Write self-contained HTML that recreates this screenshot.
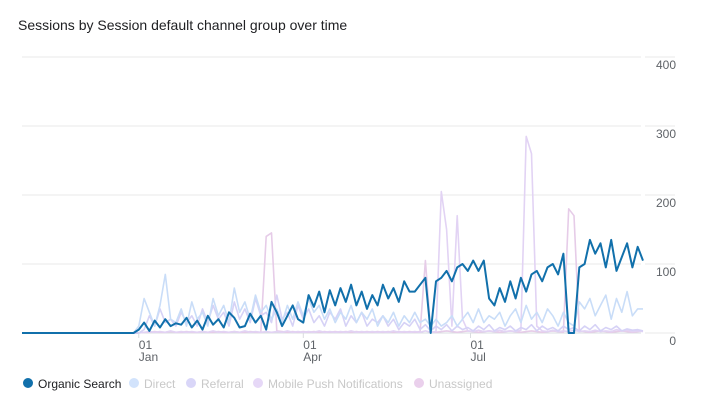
<!DOCTYPE html>
<html><head><meta charset="utf-8"><style>
body{margin:0;background:#fff;font-family:"Liberation Sans",Arial,sans-serif;}
#wrap{position:relative;width:706px;height:408px;overflow:hidden;}
</style></head><body>
<div id="wrap">
<svg id="chart" width="706" height="408" xmlns="http://www.w3.org/2000/svg">
<text x="18" y="30" font-size="14" fill="#202124">Sessions by Session default channel group over time</text>
<g id="grid"></g><g id="series"></g><g id="xaxis"></g><g id="legend"></g>
</svg>
</div>
<script>
const yTicks=[0,100,200,300,400];
const xTickLabels=[["01","Jan"],["01","Apr"],["01","Jul"]];
const xTickIndex=[22,53,84.5];
const seriesNames=["Organic Search","Direct","Referral","Mobile Push Notifications","Unassigned"];
const z22=new Array(22).fill(0);
const organic=z22.concat([5,15,3,18,8,20,10,14,12,22,8,18,5,25,12,20,8,30,22,8,10,28,15,25,5,45,30,10,25,40,20,15,55,38,60,30,62,40,65,45,70,40,60,35,55,40,70,50,65,45,75,60,60,70,80,0,75,80,90,75,95,100,90,105,90,105,50,40,65,45,75,50,80,60,85,90,75,95,100,85,115,0,0,95,100,135,115,130,95,135,90,110,130,95,125,105]);
const direct=z22.concat([10,50,30,10,40,85,20,15,35,10,45,20,30,10,50,25,40,15,65,30,45,20,55,30,40,20,35,15,40,20,45,25,50,30,40,20,35,15,30,20,40,15,30,20,35,10,25,15,30,10,25,15,30,15,20,10,20,10,15,25,10,20,30,15,35,15,25,20,30,10,25,35,15,40,20,30,15,35,25,10,30,15,10,45,35,50,25,40,55,20,50,30,60,25,35,35]);
const referral=z22.concat([0,5,25,10,35,15,20,10,30,15,25,10,35,15,40,20,30,10,45,20,35,15,50,25,30,15,55,20,30,10,40,20,35,15,25,10,30,20,35,10,25,15,30,10,20,15,25,10,20,5,15,10,20,5,12,3,10,5,12,3,10,5,8,3,10,5,12,3,8,5,10,3,8,5,12,3,10,5,8,3,10,5,8,3,10,5,12,3,8,5,10,3,6,4,5,3]);
const mobilePush=z22.concat([0,1,2,1,2,1,3,1,2,1,2,1,2,1,3,1,2,1,2,1,3,1,2,1,2,1,2,1,3,1,2,1,2,1,3,1,2,1,2,1,3,1,2,1,2,1,2,1,3,1,2,1,2,1,3,1,2,205,150,10,170,20,3,2,4,2,3,2,4,2,3,2,4,285,260,10,3,2,4,2,3,2,4,2,3,2,4,2,3,2,5,3,4,2,3,2,4,8,2]);
const unassigned=z22.concat([0,1,1,2,1,1,2,1,1,2,1,1,2,1,1,2,1,1,2,1,1,2,1,1,140,145,3,2,1,2,1,2,1,2,1,2,1,2,1,2,1,2,1,2,1,2,1,2,1,2,1,2,1,2,105,2,1,2,3,2,1,2,3,2,1,2,3,2,1,2,3,2,1,2,3,2,1,2,3,2,1,180,170,3,2,1,2,3,2,1,2,3,2,1,2,3,2,1,2,2,1,2]);
const colors=["#1170ab","#c9ddf8","#d6d2f6","#e2d3f4","#e6cce8"];
const X0=22,X1=643,Y0=333,YS=0.69;
const N=organic.length;
function xs(i){return X0+(X1-X0)*i/(N-1);}
function ys(v){return Y0-v*YS;}
const NS="http://www.w3.org/2000/svg";
function mk(tag,attrs,parent){const e=document.createElementNS(NS,tag);for(const k in attrs)e.setAttribute(k,attrs[k]);parent.appendChild(e);return e;}
const grid=document.getElementById('grid');
yTicks.forEach(t=>{
  const l=mk('line',{x1:22,x2:641,y1:ys(t),y2:ys(t),stroke:t===0?'#dadce0':'#e8e8e8','stroke-width':1},grid);
  
  
  const l2=mk('line',{x1:645,x2:675,y1:ys(t),y2:ys(t),stroke:'#e8e8e8','stroke-width':1},grid);
  
  
  const tx=mk('text',{x:676,y:ys(t)+12,'text-anchor':'end','font-size':12,fill:'#5f6368'},grid);
  tx.textContent=t;
  
  
});
const sg=document.getElementById('series');
const base=mk('line',{x1:22,x2:xs(22),y1:Y0,y2:Y0,stroke:'#3f51b5','stroke-width':2},sg);


const all=[organic,direct,referral,mobilePush,unassigned];
[4,3,2,1,0].forEach(s=>{
  const d=all[s].slice(0,N).map((v,i)=>(i?'L':'M')+xs(i).toFixed(1)+','+ys(v).toFixed(1)).join('');
  const p=mk('path',{d:d,fill:'none',stroke:colors[s],'stroke-width':s===0?2:1.6,'stroke-linejoin':'round'},sg);
  
  
});
const xa=document.getElementById('xaxis');
xTickLabels.forEach((lb,k)=>{
  const x=xs(xTickIndex[k]);
  const t=mk('line',{x1:x,x2:x,y1:333,y2:338,stroke:'#dadce0'},xa);
  
  
  const a=mk('text',{x:x,y:349,'font-size':12,fill:'#5f6368'},xa);a.textContent=lb[0];
  
  
  const b=mk('text',{x:x,y:361,'font-size':12,fill:'#5f6368'},xa);b.textContent=lb[1];
  
  
});
const lg=document.getElementById('legend');
const legX=[28,134,191,258,419];
const legCol=["#1170ab","#d2e3fc","#d9d6f8","#e6d8f7","#ead0ec"];
seriesNames.forEach((n,i)=>{
  const g=mk('g',{},lg);
  
  
  const c=mk('circle',{cx:legX[i],cy:383,r:5,fill:legCol[i]},g);
  
  
  const t=mk('text',{x:legX[i]+10,y:388,'font-size':12,fill:i===0?'#202124':'#c8c8c8'},g);
  t.textContent=n;
  
  
});
</script>
</body></html>
